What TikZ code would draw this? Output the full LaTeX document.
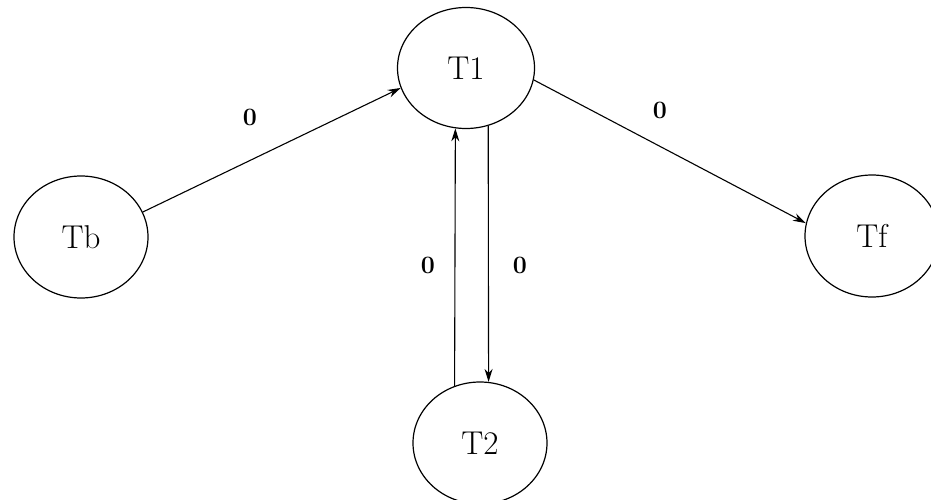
\documentclass[tikz,border=0pt]{standalone}
\usetikzlibrary{shapes.geometric,arrows.meta}
\begin{document}
\begin{tikzpicture}[x=1pt,y=-1pt,
  state/.style={draw,ellipse,line width=1.2pt,inner sep=0pt,minimum width=134pt,minimum height=122pt,font=\fontsize{33}{33}\selectfont},
  arr/.style={line width=1.1pt,-{Stealth[length=13pt,width=8pt]}},
  lbl/.style={font=\fontsize{25}{25}\selectfont\bfseries,inner sep=0pt}]
\useasboundingbox (0,0) rectangle (931,500);
\node[state,minimum width=137pt,minimum height=121pt] (T1) at (466,68) {T1};
\node[state] (Tb) at (81,237) {Tb};
\node[state] (Tf) at (872,236) {Tf};
\node[state] (T2) at (480,443) {T2};
\draw[arr] (Tb.22) -- (T1.197);
\draw[arr] (T1.350) -- (Tf.169);
\draw[arr] (T2.114) -- (T1.260);
\draw[arr] (T1.291) -- (T2.82);
\node[lbl] (l1) at (250,117) {0};
\node[lbl] (l2) at (660,110) {0};
\node[lbl] (l3) at (428,265) {0};
\node[lbl] (l4) at (520,265) {0};
\end{tikzpicture}
\end{document}
